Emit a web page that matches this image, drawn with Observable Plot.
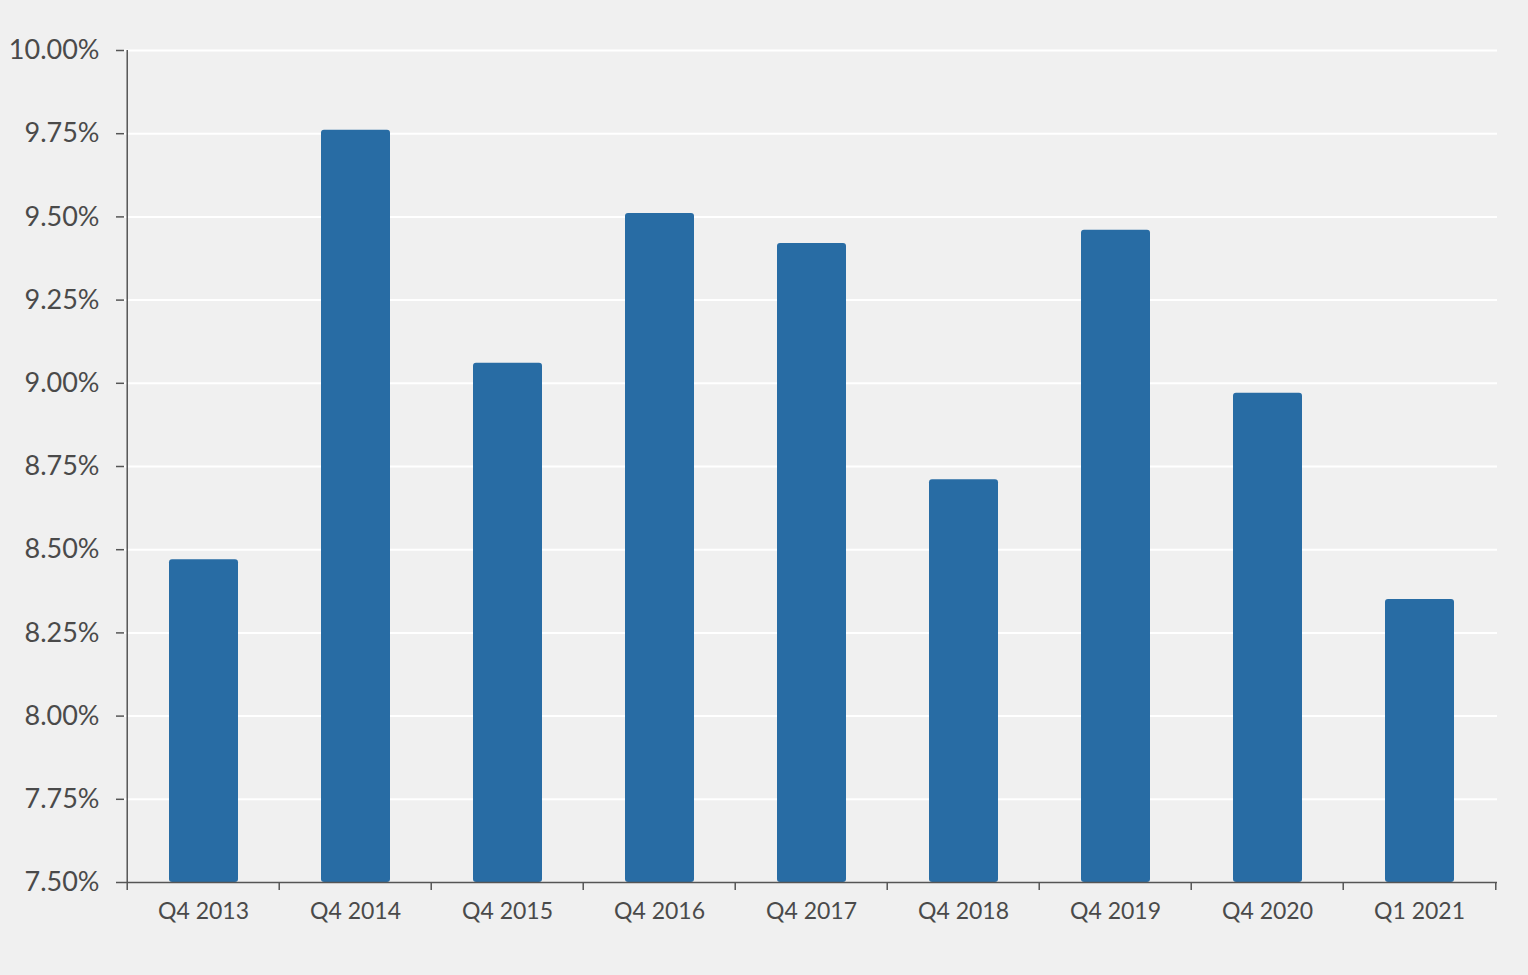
<!DOCTYPE html>
<html>
<head>
<meta charset="utf-8">
<script src="https://cdn.jsdelivr.net/npm/d3@7"></script>
<script src="https://cdn.jsdelivr.net/npm/@observablehq/plot@0.6"></script>
<style>
  html, body { margin: 0; padding: 0; background: #f0f0f0; }
  #chart svg { display: block; }
</style>
</head>
<body>
<div id="chart"></div>
<script>
const categories = ["Q4 2013", "Q4 2014", "Q4 2015", "Q4 2016", "Q4 2017", "Q4 2018", "Q4 2019", "Q4 2020", "Q1 2021"];
const rates = [8.47, 9.76, 9.06, 9.51, 9.42, 8.71, 9.46, 8.97, 8.35];
const yTicks = [7.5, 7.75, 8.0, 8.25, 8.5, 8.75, 9.0, 9.25, 9.5, 9.75, 10.0];

const data = categories.map((c, i) => ({period: c, rate: rates[i]}));

const W = 1528, H = 975;
const mL = 124, mR = 31, mT = 50, mB = 93;
const step = (W - mL - mR) / categories.length;
const textColor = "#4a4a4a";
const axisColor = "#555555";
const font = "Lato, 'Open Sans', sans-serif";

const chart = Plot.plot({
  width: W,
  height: H,
  marginLeft: mL,
  marginRight: mR,
  marginTop: mT,
  marginBottom: mB,
  style: {background: "#f0f0f0", fontFamily: font, color: textColor, overflow: "visible"},
  x: {domain: categories, padding: 0},
  y: {domain: [7.5, 10], ticks: yTicks},
  marks: [
    Plot.gridY(yTicks.filter(d => d > 7.5), {stroke: "#ffffff", strokeOpacity: 1, strokeWidth: 2}),
    Plot.rectY(data, {x: "period", y1: 7.5, y2: "rate", fill: "#286ca4", insetLeft: 42, insetRight: 41, rx: 3}),
    Plot.axisY(yTicks, {
      tickSize: 8, tickPadding: 17, stroke: axisColor, strokeWidth: 1.5,
      tickFormat: d => d.toFixed(2) + "%", fontSize: 27, fill: textColor, label: null
    }),
    Plot.ruleX([categories[0]], {y1: 7.5, y2: 10, dx: -step / 2, stroke: axisColor, strokeWidth: 1.5}),
    Plot.ruleY([7.5], {stroke: axisColor, strokeWidth: 1.5}),
    Plot.axisX(categories, {tickSize: 8, tickFormat: null, dx: -step / 2, stroke: axisColor, strokeWidth: 1.5, label: null}),
    Plot.axisX([categories[categories.length - 1]], {tickSize: 8, tickFormat: null, dx: step / 2, stroke: axisColor, strokeWidth: 1.5, label: null}),
    Plot.axisX(categories, {tickSize: 0, tickPadding: 20, fontSize: 23, fill: textColor, label: null})
  ]
});

document.getElementById("chart").appendChild(chart);
</script>
</body>
</html>
